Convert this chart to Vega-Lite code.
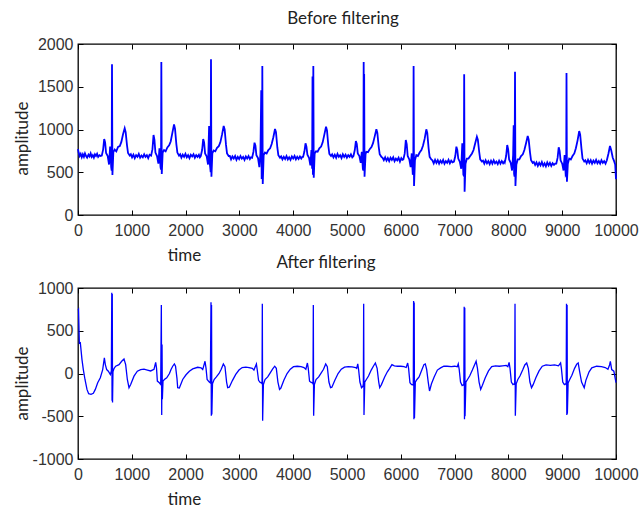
{
"$schema":"https://vega.github.io/schema/vega-lite/v6.json",
"background":"white",
"padding":{"left":12,"top":9,"right":5,"bottom":0},
"bounds":"flush",
"spacing":73,
"config":{
 "view":{"stroke":"#000","strokeWidth":1.3},
 "axis":{"grid":false,"domain":false,"tickColor":"#000","tickSize":-5,"labelFont":"Liberation Sans","labelFontSize":16,"labelColor":"#333","labelFlush":false,"labelOverlap":false,"titleFont":"Lato","titleFontSize":17,"titleFontWeight":"normal","titleColor":"#222"},
 "title":{"font":"Lato","fontSize":17,"fontWeight":"normal","color":"#222","frame":"group"}
},
"datasets":{
"raw":[
{"t":0,"v":770},{"t":12,"v":730},{"t":30,"v":690},{"t":50,"v":715},{"t":70,"v":675},{"t":90,"v":710},{"t":110,"v":680},{"t":130,"v":720},{"t":150,"v":690},{"t":170,"v":670},{"t":195,"v":705},{"t":215,"v":685},{"t":235,"v":720},{"t":255,"v":680},{"t":275,"v":700},{"t":295,"v":670},{"t":315,"v":710},{"t":335,"v":690},{"t":355,"v":715},{"t":375,"v":680},{"t":400,"v":700},{"t":420,"v":690},
{"t":442,"v":695},{"t":467,"v":765},{"t":487,"v":889},{"t":504,"v":850},{"t":522,"v":725},{"t":552,"v":690},{"t":577,"v":590},{"t":597,"v":800},{"t":617,"v":560},{"t":626,"v":520},{"t":632,"v":1762},{"t":640,"v":468},{"t":657,"v":735},{"t":682,"v":765},{"t":712,"v":745},{"t":744,"v":795},{"t":777,"v":805},{"t":806,"v":855},{"t":837,"v":945},{"t":868,"v":1014},{"t":886,"v":970},{"t":911,"v":815},{"t":930,"v":725},{"t":961,"v":695},
{"t":982,"v":710},{"t":1005,"v":675},{"t":1030,"v":705},{"t":1055,"v":665},{"t":1080,"v":700},{"t":1105,"v":680},{"t":1130,"v":715},{"t":1155,"v":670},{"t":1180,"v":695},{"t":1205,"v":675},{"t":1230,"v":710},{"t":1255,"v":680},{"t":1280,"v":700},{"t":1305,"v":665},{"t":1330,"v":705},
{"t":1359,"v":695},{"t":1384,"v":770},{"t":1404,"v":936},{"t":1421,"v":880},{"t":1439,"v":730},{"t":1469,"v":690},{"t":1494,"v":600},{"t":1514,"v":780},{"t":1534,"v":560},{"t":1543,"v":530},{"t":1549,"v":1789},{"t":1557,"v":480},{"t":1574,"v":730},{"t":1599,"v":760},{"t":1629,"v":745},{"t":1661,"v":790},{"t":1694,"v":815},{"t":1723,"v":860},{"t":1754,"v":960},{"t":1785,"v":1060},{"t":1803,"v":1010},{"t":1828,"v":830},{"t":1847,"v":730},{"t":1878,"v":695},
{"t":1899,"v":710},{"t":1922,"v":670},{"t":1947,"v":705},{"t":1972,"v":680},{"t":1997,"v":715},{"t":2022,"v":675},{"t":2047,"v":700},{"t":2072,"v":665},{"t":2097,"v":705},{"t":2122,"v":685},{"t":2147,"v":710},{"t":2172,"v":670},{"t":2197,"v":700},{"t":2222,"v":680},{"t":2247,"v":705},{"t":2265,"v":675},
{"t":2282,"v":690},{"t":2307,"v":760},{"t":2327,"v":889},{"t":2344,"v":850},{"t":2362,"v":720},{"t":2392,"v":685},{"t":2417,"v":590},{"t":2437,"v":1040},{"t":2447,"v":620},{"t":2457,"v":560},{"t":2466,"v":500},{"t":2472,"v":1821},{"t":2480,"v":448},{"t":2497,"v":720},{"t":2522,"v":755},{"t":2552,"v":745},{"t":2584,"v":785},{"t":2617,"v":805},{"t":2646,"v":850},{"t":2677,"v":940},{"t":2708,"v":1041},{"t":2726,"v":1000},{"t":2751,"v":820},{"t":2770,"v":720},{"t":2801,"v":690},
{"t":2822,"v":690},{"t":2845,"v":650},{"t":2870,"v":685},{"t":2895,"v":660},{"t":2920,"v":690},{"t":2945,"v":645},{"t":2970,"v":680},{"t":2995,"v":655},{"t":3020,"v":690},{"t":3045,"v":660},{"t":3070,"v":680},{"t":3095,"v":645},{"t":3120,"v":685},{"t":3145,"v":660},{"t":3170,"v":690},{"t":3195,"v":655},{"t":3215,"v":675},
{"t":3236,"v":670},{"t":3261,"v":740},{"t":3281,"v":846},{"t":3298,"v":810},{"t":3316,"v":700},{"t":3346,"v":665},{"t":3371,"v":560},{"t":3391,"v":720},{"t":3406,"v":1460},{"t":3414,"v":420},{"t":3420,"v":450},{"t":3426,"v":1743},{"t":3434,"v":362},{"t":3451,"v":700},{"t":3476,"v":730},{"t":3506,"v":720},{"t":3538,"v":760},{"t":3571,"v":780},{"t":3600,"v":830},{"t":3631,"v":910},{"t":3662,"v":1006},{"t":3680,"v":970},{"t":3705,"v":790},{"t":3724,"v":700},{"t":3755,"v":670},
{"t":3776,"v":685},{"t":3800,"v":650},{"t":3825,"v":680},{"t":3850,"v":655},{"t":3875,"v":690},{"t":3900,"v":650},{"t":3925,"v":675},{"t":3950,"v":645},{"t":3975,"v":685},{"t":4000,"v":660},{"t":4025,"v":690},{"t":4050,"v":650},{"t":4075,"v":680},{"t":4100,"v":655},{"t":4125,"v":685},{"t":4150,"v":660},{"t":4170,"v":680},
{"t":4184,"v":680},{"t":4209,"v":745},{"t":4229,"v":838},{"t":4246,"v":800},{"t":4264,"v":705},{"t":4294,"v":670},{"t":4319,"v":580},{"t":4339,"v":760},{"t":4352,"v":540},{"t":4359,"v":1620},{"t":4366,"v":470},{"t":4374,"v":1743},{"t":4382,"v":437},{"t":4399,"v":720},{"t":4424,"v":745},{"t":4454,"v":740},{"t":4486,"v":780},{"t":4519,"v":800},{"t":4548,"v":850},{"t":4579,"v":940},{"t":4610,"v":1033},{"t":4628,"v":990},{"t":4653,"v":810},{"t":4672,"v":715},{"t":4703,"v":690},
{"t":4724,"v":710},{"t":4748,"v":675},{"t":4773,"v":705},{"t":4798,"v":670},{"t":4823,"v":715},{"t":4848,"v":680},{"t":4873,"v":700},{"t":4898,"v":665},{"t":4923,"v":710},{"t":4948,"v":680},{"t":4973,"v":705},{"t":4998,"v":670},{"t":5023,"v":700},{"t":5048,"v":680},{"t":5073,"v":710},{"t":5098,"v":675},
{"t":5120,"v":690},{"t":5145,"v":760},{"t":5165,"v":865},{"t":5182,"v":830},{"t":5200,"v":720},{"t":5230,"v":690},{"t":5255,"v":610},{"t":5275,"v":740},{"t":5295,"v":540},{"t":5304,"v":520},{"t":5310,"v":1789},{"t":5315,"v":620},{"t":5319,"v":1650},{"t":5326,"v":448},{"t":5345,"v":710},{"t":5360,"v":740},{"t":5390,"v":735},{"t":5422,"v":770},{"t":5455,"v":795},{"t":5484,"v":840},{"t":5515,"v":920},{"t":5546,"v":1002},{"t":5564,"v":960},{"t":5589,"v":800},{"t":5608,"v":710},{"t":5639,"v":680},
{"t":5660,"v":670},{"t":5684,"v":640},{"t":5709,"v":675},{"t":5734,"v":635},{"t":5759,"v":665},{"t":5784,"v":630},{"t":5809,"v":670},{"t":5834,"v":645},{"t":5859,"v":675},{"t":5884,"v":630},{"t":5909,"v":660},{"t":5934,"v":640},{"t":5959,"v":670},{"t":5984,"v":625},{"t":6009,"v":665},{"t":6030,"v":645},
{"t":6048,"v":650},{"t":6073,"v":720},{"t":6093,"v":877},{"t":6110,"v":830},{"t":6128,"v":690},{"t":6158,"v":650},{"t":6183,"v":560},{"t":6203,"v":720},{"t":6223,"v":470},{"t":6232,"v":500},{"t":6238,"v":1743},{"t":6246,"v":339},{"t":6263,"v":640},{"t":6288,"v":700},{"t":6318,"v":690},{"t":6350,"v":730},{"t":6383,"v":760},{"t":6412,"v":810},{"t":6443,"v":890},{"t":6474,"v":1002},{"t":6492,"v":960},{"t":6517,"v":780},{"t":6536,"v":680},{"t":6567,"v":650},
{"t":6588,"v":640},{"t":6612,"v":605},{"t":6637,"v":645},{"t":6662,"v":610},{"t":6687,"v":640},{"t":6712,"v":600},{"t":6737,"v":635},{"t":6762,"v":610},{"t":6787,"v":645},{"t":6812,"v":600},{"t":6837,"v":630},{"t":6862,"v":610},{"t":6887,"v":645},{"t":6912,"v":605},{"t":6937,"v":635},{"t":6962,"v":615},
{"t":6988,"v":625},{"t":7013,"v":690},{"t":7033,"v":799},{"t":7050,"v":760},{"t":7068,"v":660},{"t":7098,"v":620},{"t":7123,"v":540},{"t":7143,"v":840},{"t":7163,"v":470},{"t":7172,"v":460},{"t":7178,"v":1645},{"t":7186,"v":273},{"t":7203,"v":600},{"t":7228,"v":660},{"t":7258,"v":660},{"t":7290,"v":690},{"t":7323,"v":720},{"t":7352,"v":760},{"t":7383,"v":840},{"t":7414,"v":916},{"t":7432,"v":880},{"t":7457,"v":740},{"t":7476,"v":650},{"t":7507,"v":625},
{"t":7528,"v":635},{"t":7552,"v":600},{"t":7577,"v":640},{"t":7602,"v":605},{"t":7627,"v":630},{"t":7652,"v":595},{"t":7677,"v":635},{"t":7702,"v":600},{"t":7727,"v":640},{"t":7752,"v":605},{"t":7777,"v":625},{"t":7802,"v":595},{"t":7827,"v":635},{"t":7852,"v":600},{"t":7877,"v":630},{"t":7902,"v":605},{"t":7925,"v":625},
{"t":7933,"v":615},{"t":7958,"v":690},{"t":7978,"v":819},{"t":7995,"v":770},{"t":8013,"v":650},{"t":8043,"v":610},{"t":8068,"v":520},{"t":8088,"v":700},{"t":8098,"v":1050},{"t":8106,"v":480},{"t":8115,"v":450},{"t":8123,"v":1676},{"t":8131,"v":339},{"t":8148,"v":590},{"t":8173,"v":650},{"t":8203,"v":650},{"t":8235,"v":690},{"t":8268,"v":710},{"t":8297,"v":760},{"t":8328,"v":840},{"t":8359,"v":924},{"t":8377,"v":880},{"t":8402,"v":730},{"t":8421,"v":640},{"t":8452,"v":610},
{"t":8473,"v":620},{"t":8497,"v":585},{"t":8522,"v":615},{"t":8547,"v":575},{"t":8572,"v":610},{"t":8597,"v":580},{"t":8622,"v":620},{"t":8647,"v":575},{"t":8672,"v":605},{"t":8697,"v":570},{"t":8722,"v":615},{"t":8747,"v":580},{"t":8772,"v":610},{"t":8797,"v":575},{"t":8822,"v":605},{"t":8847,"v":585},{"t":8870,"v":600},
{"t":8890,"v":600},{"t":8915,"v":670},{"t":8935,"v":792},{"t":8952,"v":750},{"t":8970,"v":640},{"t":9000,"v":600},{"t":9025,"v":520},{"t":9045,"v":700},{"t":9065,"v":470},{"t":9074,"v":480},{"t":9080,"v":1661},{"t":9088,"v":390},{"t":9105,"v":600},{"t":9130,"v":660},{"t":9160,"v":650},{"t":9192,"v":690},{"t":9225,"v":720},{"t":9254,"v":780},{"t":9285,"v":870},{"t":9316,"v":982},{"t":9334,"v":940},{"t":9359,"v":770},{"t":9378,"v":660},{"t":9409,"v":625},
{"t":9430,"v":640},{"t":9455,"v":605},{"t":9480,"v":645},{"t":9505,"v":610},{"t":9530,"v":640},{"t":9555,"v":600},{"t":9580,"v":635},{"t":9605,"v":610},{"t":9630,"v":645},{"t":9655,"v":605},{"t":9680,"v":630},{"t":9705,"v":600},{"t":9730,"v":640},{"t":9755,"v":610},{"t":9780,"v":630},{"t":9805,"v":600},{"t":9830,"v":640},
{"t":9860,"v":720},{"t":9888,"v":807},{"t":9910,"v":760},{"t":9940,"v":670},{"t":9965,"v":630},{"t":9985,"v":590},{"t":10000,"v":420}
],
"filt":[
{"t":0,"v":740},{"t":10,"v":750},{"t":25,"v":356},{"t":43,"v":360},{"t":74,"v":162},{"t":99,"v":46},{"t":130,"v":-70},{"t":167,"v":-186},{"t":198,"v":-236},{"t":242,"v":-244},{"t":285,"v":-232},{"t":322,"v":-186},{"t":366,"v":-108},{"t":415,"v":-50},{"t":459,"v":46},{"t":490,"v":182},{"t":508,"v":104},{"t":533,"v":46},{"t":564,"v":27},{"t":601,"v":-12},{"t":620,"v":30},{"t":628,"v":943},{"t":633,"v":-320},{"t":637,"v":930},{"t":642,"v":-338},{"t":650,"v":20},{"t":669,"v":58},{"t":700,"v":85},{"t":762,"v":104},{"t":812,"v":143},{"t":855,"v":170},{"t":886,"v":104},{"t":917,"v":-70},{"t":948,"v":-166},{"t":979,"v":-128},{"t":1041,"v":-31},{"t":1103,"v":27},{"t":1165,"v":46},{"t":1227,"v":50},{"t":1290,"v":40},{"t":1350,"v":30},{"t":1413,"v":50},{"t":1444,"v":131},{"t":1460,"v":60},{"t":1475,"v":-89},{"t":1512,"v":-108},{"t":1537,"v":-128},
{"t":1549,"v":800},{"t":1556,"v":-484},{"t":1562,"v":340},{"t":1568,"v":-300},{"t":1580,"v":-90},{"t":1605,"v":-70},{"t":1649,"v":-50},{"t":1700,"v":0},{"t":1729,"v":46},{"t":1760,"v":85},{"t":1791,"v":112},{"t":1813,"v":85},{"t":1840,"v":-60},{"t":1853,"v":-166},{"t":1884,"v":-170},{"t":1946,"v":-70},{"t":2008,"v":-15},{"t":2070,"v":27},{"t":2132,"v":54},{"t":2225,"v":73},{"t":2287,"v":66},{"t":2318,"v":46},{"t":2361,"v":143},{"t":2380,"v":60},{"t":2400,"v":-70},{"t":2440,"v":-100},{"t":2460,"v":-110},
{"t":2472,"v":832},{"t":2478,"v":-495},{"t":2482,"v":800},{"t":2488,"v":-480},{"t":2500,"v":-120},{"t":2530,"v":-70},{"t":2572,"v":-40},{"t":2622,"v":0},{"t":2662,"v":50},{"t":2702,"v":112},{"t":2732,"v":80},{"t":2762,"v":-100},{"t":2782,"v":-166},{"t":2812,"v":-160},{"t":2872,"v":-80},{"t":2932,"v":-10},{"t":2992,"v":40},{"t":3052,"v":70},{"t":3120,"v":75},{"t":3180,"v":70},{"t":3240,"v":60},{"t":3270,"v":40},{"t":3316,"v":112},{"t":3330,"v":50},{"t":3356,"v":-80},{"t":3386,"v":-105},{"t":3410,"v":-110},{"t":3421,"v":-120},
{"t":3426,"v":816},{"t":3432,"v":-553},{"t":3446,"v":-130},{"t":3476,"v":-70},{"t":3526,"v":-40},{"t":3576,"v":10},{"t":3616,"v":50},{"t":3656,"v":85},{"t":3686,"v":60},{"t":3716,"v":-100},{"t":3746,"v":-186},{"t":3771,"v":-170},{"t":3826,"v":-80},{"t":3886,"v":0},{"t":3946,"v":50},{"t":4006,"v":80},{"t":4076,"v":85},{"t":4146,"v":80},{"t":4200,"v":70},{"t":4235,"v":50},{"t":4264,"v":123},{"t":4280,"v":60},{"t":4304,"v":-90},{"t":4334,"v":-105},{"t":4359,"v":-110},{"t":4368,"v":-120},
{"t":4374,"v":800},{"t":4380,"v":-495},{"t":4394,"v":-130},{"t":4424,"v":-70},{"t":4474,"v":-40},{"t":4524,"v":10},{"t":4564,"v":50},{"t":4604,"v":112},{"t":4634,"v":80},{"t":4664,"v":-100},{"t":4694,"v":-166},{"t":4719,"v":-160},{"t":4774,"v":-80},{"t":4834,"v":0},{"t":4894,"v":50},{"t":4954,"v":75},{"t":5024,"v":80},{"t":5094,"v":77},{"t":5160,"v":70},{"t":5180,"v":60},{"t":5200,"v":112},{"t":5215,"v":50},{"t":5240,"v":-100},{"t":5270,"v":-166},{"t":5295,"v":-150},{"t":5304,"v":-120},
{"t":5310,"v":816},{"t":5316,"v":-484},{"t":5330,"v":-100},{"t":5360,"v":-70},{"t":5400,"v":-30},{"t":5450,"v":40},{"t":5490,"v":85},{"t":5527,"v":123},{"t":5560,"v":60},{"t":5590,"v":-100},{"t":5608,"v":-166},{"t":5640,"v":-130},{"t":5700,"v":-40},{"t":5750,"v":20},{"t":5790,"v":58},{"t":5835,"v":104},{"t":5880,"v":90},{"t":5940,"v":85},{"t":6000,"v":85},{"t":6060,"v":80},{"t":6100,"v":70},{"t":6128,"v":123},{"t":6145,"v":60},{"t":6170,"v":-108},{"t":6200,"v":-130},{"t":6225,"v":-130},{"t":6232,"v":-140},
{"t":6238,"v":847},{"t":6244,"v":-534},{"t":6249,"v":830},{"t":6254,"v":-520},{"t":6270,"v":-100},{"t":6300,"v":-70},{"t":6340,"v":-40},{"t":6390,"v":40},{"t":6430,"v":104},{"t":6455,"v":112},{"t":6480,"v":50},{"t":6510,"v":-100},{"t":6534,"v":-205},{"t":6570,"v":-120},{"t":6620,"v":-40},{"t":6680,"v":40},{"t":6740,"v":66},{"t":6800,"v":85},{"t":6860,"v":85},{"t":6940,"v":80},{"t":7000,"v":85},{"t":7050,"v":80},{"t":7068,"v":112},{"t":7085,"v":50},{"t":7110,"v":-100},{"t":7140,"v":-140},{"t":7165,"v":-130},{"t":7172,"v":-140},
{"t":7178,"v":781},{"t":7184,"v":-534},{"t":7189,"v":770},{"t":7194,"v":-500},{"t":7210,"v":-100},{"t":7240,"v":-70},{"t":7280,"v":-30},{"t":7330,"v":40},{"t":7370,"v":100},{"t":7400,"v":143},{"t":7425,"v":60},{"t":7455,"v":-100},{"t":7485,"v":-186},{"t":7515,"v":-140},{"t":7570,"v":-50},{"t":7630,"v":30},{"t":7690,"v":80},{"t":7760,"v":90},{"t":7830,"v":85},{"t":7890,"v":90},{"t":7960,"v":95},{"t":7990,"v":80},{"t":8013,"v":130},{"t":8030,"v":60},{"t":8055,"v":-100},{"t":8085,"v":-130},{"t":8110,"v":-120},{"t":8117,"v":-130},
{"t":8123,"v":816},{"t":8129,"v":-495},{"t":8145,"v":-120},{"t":8175,"v":-70},{"t":8215,"v":-30},{"t":8265,"v":40},{"t":8305,"v":100},{"t":8340,"v":123},{"t":8370,"v":60},{"t":8400,"v":-100},{"t":8430,"v":-166},{"t":8460,"v":-130},{"t":8510,"v":-50},{"t":8570,"v":30},{"t":8630,"v":85},{"t":8700,"v":100},{"t":8780,"v":95},{"t":8860,"v":100},{"t":8930,"v":90},{"t":8970,"v":123},{"t":8985,"v":60},{"t":9010,"v":-100},{"t":9040,"v":-130},{"t":9065,"v":-120},{"t":9074,"v":-130},
{"t":9080,"v":816},{"t":9086,"v":-484},{"t":9091,"v":800},{"t":9096,"v":-470},{"t":9110,"v":-110},{"t":9140,"v":-70},{"t":9180,"v":-20},{"t":9230,"v":60},{"t":9270,"v":110},{"t":9297,"v":123},{"t":9325,"v":20},{"t":9360,"v":-100},{"t":9409,"v":-166},{"t":9440,"v":-80},{"t":9500,"v":20},{"t":9550,"v":66},{"t":9640,"v":85},{"t":9730,"v":80},{"t":9800,"v":70},{"t":9850,"v":50},{"t":9880,"v":100},{"t":9895,"v":143},{"t":9920,"v":46},{"t":9960,"v":27},{"t":10000,"v":-108}
]
},
"vconcat":[
{
 "width":538,"height":171,
 "title":{"text":"Before filtering","offset":8,"dx":-4},
 "data":{"name":"raw"},
 "layer":[
  {"mark":{"type":"line","color":"#0000ff","strokeWidth":1.8},
   "encoding":{
    "x":{"field":"t","type":"quantitative","scale":{"domain":[0,10000],"nice":false},"axis":{"orient":"bottom","values":[0,1000,2000,3000,4000,5000,6000,7000,8000,9000,10000],"labelExpr":"'' + datum.value","labelFont":"Liberation Sans","labelFontSize":16,"labelFlush":false,"labelOverlap":false,"labelPadding":12,"title":"time","titleX":106,"titleY":40,"titleBaseline":"middle"}},
    "y":{"field":"v","type":"quantitative","scale":{"domain":[0,2000],"nice":false},"axis":{"orient":"left","values":[0,500,1000,1500,2000],"labelExpr":"'' + datum.value","labelFont":"Liberation Sans","labelFontSize":16,"labelFlush":false,"labelPadding":10,"title":"amplitude","titleX":-56,"titleY":94,"titleBaseline":"middle"}}
   }},
  {"mark":{"type":"line","opacity":0},
   "encoding":{
    "x":{"field":"t","type":"quantitative","scale":{"domain":[0,10000],"nice":false},"axis":{"orient":"top","values":[0,1000,2000,3000,4000,5000,6000,7000,8000,9000,10000],"labels":false,"title":null}},
    "y":{"field":"v","type":"quantitative","scale":{"domain":[0,2000],"nice":false},"axis":{"orient":"right","values":[0,500,1000,1500,2000],"labels":false,"title":null}}
   }}
 ],
 "resolve":{"axis":{"x":"independent","y":"independent"}}
},
{
 "width":538,"height":171,
 "title":{"text":"After filtering","offset":8,"dx":-21},
 "data":{"name":"filt"},
 "layer":[
  {"mark":{"type":"line","color":"#0000ff","strokeWidth":1.3},
   "encoding":{
    "x":{"field":"t","type":"quantitative","scale":{"domain":[0,10000],"nice":false},"axis":{"orient":"bottom","values":[0,1000,2000,3000,4000,5000,6000,7000,8000,9000,10000],"labelExpr":"'' + datum.value","labelFont":"Liberation Sans","labelFontSize":16,"labelFlush":false,"labelOverlap":false,"labelPadding":12,"title":"time","titleX":106,"titleY":40,"titleBaseline":"middle"}},
    "y":{"field":"v","type":"quantitative","scale":{"domain":[-1000,1000],"nice":false},"axis":{"orient":"left","values":[-1000,-500,0,500,1000],"labelExpr":"'' + datum.value","labelFont":"Liberation Sans","labelFontSize":16,"labelFlush":false,"labelPadding":10,"title":"amplitude","titleX":-56,"titleY":95,"titleBaseline":"middle"}}
   }},
  {"mark":{"type":"line","opacity":0},
   "encoding":{
    "x":{"field":"t","type":"quantitative","scale":{"domain":[0,10000],"nice":false},"axis":{"orient":"top","values":[0,1000,2000,3000,4000,5000,6000,7000,8000,9000,10000],"labels":false,"title":null}},
    "y":{"field":"v","type":"quantitative","scale":{"domain":[-1000,1000],"nice":false},"axis":{"orient":"right","values":[-1000,-500,0,500,1000],"labels":false,"title":null}}
   }}
 ],
 "resolve":{"axis":{"x":"independent","y":"independent"}}
}
]
}
